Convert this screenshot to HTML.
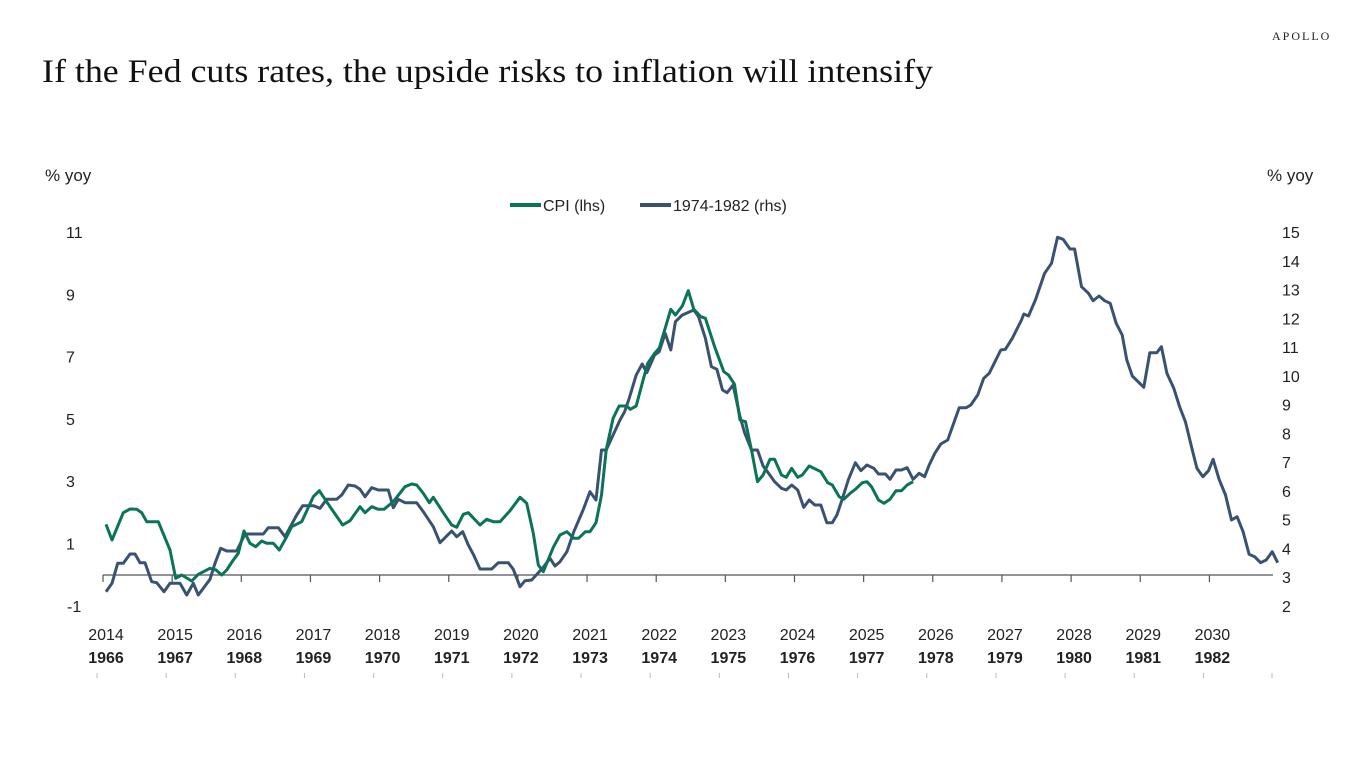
<!DOCTYPE html>
<html><head><meta charset="utf-8"><style>
html,body{margin:0;padding:0;background:#fff;width:1368px;height:768px;overflow:hidden}
text{font-family:"Liberation Sans",sans-serif;fill:#222}
</style></head><body>
<svg id="s" width="1368" height="768" viewBox="0 0 1368 768" xmlns="http://www.w3.org/2000/svg">
<text x="42" y="82" style="font-family:'Liberation Serif',serif;font-size:33px;fill:#111" textLength="891" lengthAdjust="spacingAndGlyphs">If  the Fed cuts rates, the upside risks to inflation will intensify</text>
<text x="1272" y="40" style="font-family:'Liberation Serif',serif;font-size:12px;letter-spacing:2px;fill:#222">APOLLO</text>
<text x="45" y="181" style="font-size:17px">% yoy</text>
<text x="1267" y="181" style="font-size:17px">% yoy</text>
<line x1="510" y1="205" x2="541" y2="205" stroke="#0a7358" stroke-width="4"/>
<text x="543" y="211" style="font-size:16px">CPI (lhs)</text>
<line x1="640" y1="205" x2="671" y2="205" stroke="#3a5272" stroke-width="4"/>
<text x="673" y="211" style="font-size:16px">1974-1982 (rhs)</text>
<g id="ax"></g>
<path id="blue" fill="none" stroke="#3a5272" stroke-width="3" stroke-linejoin="round"/>
<path id="green" fill="none" stroke="#0a7358" stroke-width="3" stroke-linejoin="round"/>
</svg>
<script>
var NS="http://www.w3.org/2000/svg",ax=document.getElementById("ax");
function el(t,a,txt){var e=document.createElementNS(NS,t);for(var k in a)e.setAttribute(k,a[k]);if(txt!=null)e.textContent=txt;ax.appendChild(e);return e;}
el("line",{x1:103,y1:575,x2:1273,y2:575,stroke:"#555","stroke-width":1.3});
for(var i=0;i<17;i++){var x=103+i*69.15;el("line",{x1:x,y1:575,x2:x,y2:582,stroke:"#555","stroke-width":1.2});
el("text",{x:x+3,y:640,"text-anchor":"middle","font-size":"16"},String(2014+i));
el("text",{x:x+3,y:663,"text-anchor":"middle","font-size":"16","font-weight":"bold","fill":"#333"},String(1966+i));
el("line",{x1:x-6,y1:673,x2:x-6,y2:678,stroke:"#bbb","stroke-width":1});}
el("line",{x1:1272,y1:673,x2:1272,y2:678,stroke:"#bbb","stroke-width":1});
var L=[11,9,7,5,3,1,-1];L.forEach(function(v,i){el("text",{x:v<0?67:66,y:238+i*62.3,"font-size":"16"},String(v));});
for(var v=15;v>=2;v--){el("text",{x:1282,y:238+(15-v)*28.75,"font-size":"16"},String(v));}
function conv(a,ox,oy,sx,sy){var r=[];for(var i=0;i<a.length;i+=2)r.push([ox+a[i]/sx,oy+a[i+1]/sy]);return r;}
var g1=[48,433,66,480,100,398,120,387,140,388,155,398,170,425,205,425,240,510,257,595,275,585,305,603,325,583,360,565,378,570,395,585,410,570,430,540,445,520,462,453,480,490,497,500,515,483,530,490,550,490,568,510,590,470,605,440,635,425,670,350,688,332,720,380,758,435,780,422,810,380,825,398,845,380,865,388,882,388,910,365,945,320,965,312,980,315,1000,340,1018,368,1030,352,1060,398,1085,435,1100,442,1120,403,1135,398,1170,435,1190,418,1210,425,1230,425,1260,392,1290,352,1310,370,1330,460,1345,555,1360,575,1390,502,1410,465,1430,455,1450,473,1465,473,1485,455,1500,455,1520,425,1535,330,1548,190];
var g2=[0,945,15,935,30,955,40,955,55,935,65,935,78,908,90,825,100,690,115,595,128,558,145,558,152,568,165,558,180,480,190,430,205,400,215,385,240,268,250,285,265,258,278,212,290,268,305,290,315,295,335,380,355,455,365,465,378,493,390,600,402,605,415,690,428,785,440,765,455,718,465,718,480,765,490,772,502,745,515,772,525,765,540,738,565,755,580,788,590,795,605,830,615,838,630,818,640,808,655,788,665,785,675,800,690,840,702,850,715,838,728,812,740,812,752,795,765,785];
var b1=[48,635,66,610,83,550,100,550,120,522,135,522,150,548,165,548,185,605,200,608,222,635,240,610,270,610,290,645,310,610,325,645,345,618,360,598,375,550,392,505,410,513,440,513,465,462,520,462,535,443,565,443,585,470,620,405,638,377,670,377,690,385,710,358,740,358,755,345,775,315,795,318,810,328,825,350,845,323,865,330,895,330,910,383,925,358,945,368,980,368,1000,395,1030,440,1050,488,1085,453,1100,470,1118,455,1135,495,1150,523,1170,567,1205,567,1225,548,1255,548,1270,568,1290,620,1305,602,1325,600,1360,562,1380,535,1395,558,1420,530,1440,470,1465,410,1480,380,1498,333,1515,358,1530,212,1545,212];
var b2=[0,1025,15,995,30,935,50,870,65,815,78,840,90,690,100,690,115,645,130,600,140,575,150,535,165,465,178,432,188,458,205,405,215,395,228,340,240,390,250,305,265,285,290,270,300,290,315,355,328,440,340,448,352,510,362,518,375,495,390,590,400,638,415,690,428,690,440,738,452,760,465,785,480,805,490,810,502,795,515,810,528,862,540,840,552,855,565,855,578,908,590,908,600,885,612,835,625,778,640,728,652,752,665,735,680,745,690,762,705,762,715,778,728,750,740,750,752,743,765,778,778,760,790,770,800,735,812,700,825,672,840,660,865,563,880,563,890,555,905,525,918,475,930,460,955,390,965,388,980,355,1000,300,1005,282,1015,288,1030,240,1050,160,1065,130,1078,52,1090,58,1105,87,1115,87,1130,200,1145,220,1155,242,1168,228,1180,242,1192,250,1205,310,1218,345,1228,420,1240,468,1265,502,1278,398,1293,398,1303,380,1315,460,1330,505,1343,562,1355,605,1370,690,1380,745,1393,770,1405,752,1415,718,1428,778,1442,825,1455,900,1467,890,1480,935,1493,1003,1505,1010,1518,1028,1530,1020,1543,995,1555,1028];
function d(p){return "M"+p.map(function(q){return q[0].toFixed(1)+" "+q[1].toFixed(1)}).join(" L");}
var sx=1560/720;
function lt(p){return p[0]<560;}
var G=conv(g1,90,380,3,3).filter(lt).concat(conv(g2,560,220,sx,3));
var B=conv(b1,90,380,3,3).filter(lt).concat(conv(b2,560,220,sx,3));
document.getElementById("green").setAttribute("d",d(G));
document.getElementById("blue").setAttribute("d",d(B));
</script>
</body></html>
